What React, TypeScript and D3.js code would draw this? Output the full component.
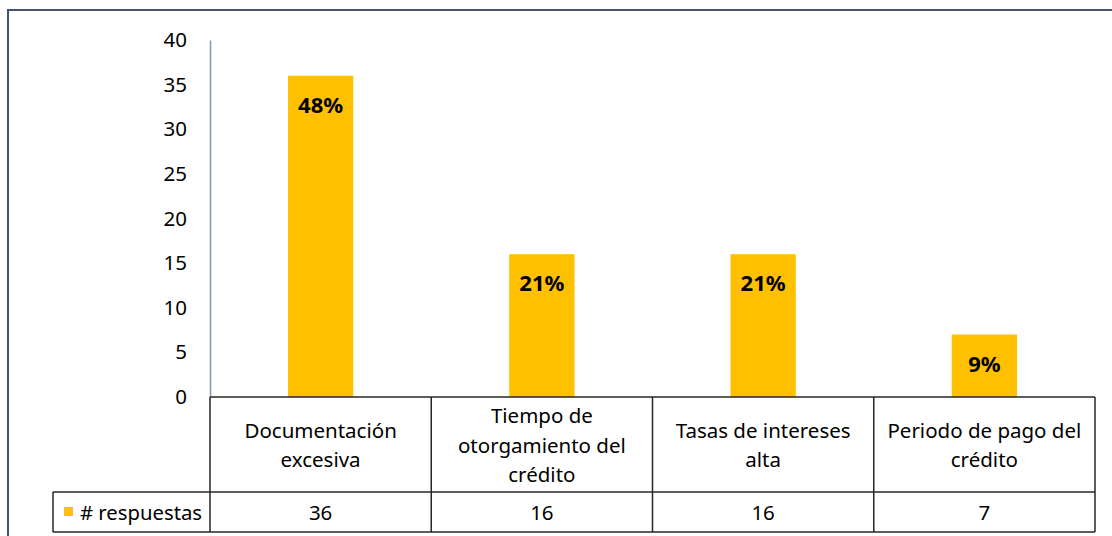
import React, { useEffect, useRef } from "react";
import * as d3 from "d3";

// categories as two/three-line cell labels
const categories = [
  "Documentación excesiva",
  "Tiempo de otorgamiento del crédito",
  "Tasas de intereses alta",
  "Periodo de pago del crédito",
];
const categoryLines = [
  ["Documentación", "excesiva"],
  ["Tiempo de", "otorgamiento del", "crédito"],
  ["Tasas de intereses", "alta"],
  ["Periodo de pago del", "crédito"],
];
const respuestas = [36, 16, 16, 7];
const percentLabels = ["48%", "21%", "21%", "9%"];
const seriesName = "# respuestas";
const yTicks = [0, 5, 10, 15, 20, 25, 30, 35, 40];

const W = 1112;
const H = 536;
const FONT = "'Noto Sans', sans-serif";

const App: React.FC = () => {
  const svgRef = useRef<SVGSVGElement>(null);

  useEffect(() => {
    if (!svgRef.current) return;
    const svg = d3.select(svgRef.current).html("");

    const margin = { left: 210, right: 1095, top: 40, plotBottom: 397, rowLine: 492, bottom: 532 };

    // outer chart border (extends past the window)
    svg
      .append("rect")
      .attr("x", 8)
      .attr("y", 10)
      .attr("width", 1200)
      .attr("height", 700)
      .attr("fill", "#fff")
      .attr("stroke", "#44546A")
      .attr("stroke-width", 2);

    const x = d3.scaleBand<string>().domain(categories).range([margin.left, margin.right]).padding(0);
    const y = d3.scaleLinear().domain([0, 40]).range([margin.plotBottom, margin.top]);

    // y axis
    const yAxis = svg
      .append("g")
      .attr("transform", `translate(${margin.left},0)`)
      .call(d3.axisLeft(y).tickValues(yTicks).tickSize(0).tickSizeOuter(0).tickPadding(23));
    yAxis.select(".domain").attr("stroke", "#8497B0").attr("stroke-width", 1.5);
    yAxis
      .selectAll("text")
      .attr("font-family", FONT)
      .attr("font-size", 20.5)
      .attr("fill", "#000");

    // bars
    const barW = x.bandwidth() * 0.295;
    svg
      .append("g")
      .selectAll("rect")
      .data(respuestas)
      .join("rect")
      .attr("x", (d, i) => (x(categories[i]) ?? 0) + x.bandwidth() / 2 - barW / 2)
      .attr("y", (d) => y(d))
      .attr("width", barW)
      .attr("height", (d) => y(0) - y(d))
      .attr("fill", "#FFC000");

    // percentage labels
    svg
      .append("g")
      .selectAll("text")
      .data(respuestas)
      .join("text")
      .attr("x", (d, i) => (x(categories[i]) ?? 0) + x.bandwidth() / 2)
      .attr("y", (d) => y(d) + 28)
      .attr("text-anchor", "middle")
      .attr("dominant-baseline", "central")
      .attr("font-family", FONT)
      .attr("font-weight", "bold")
      .attr("font-size", 22)
      .attr("fill", "#000")
      .text((d, i) => percentLabels[i]);

    // data table
    const table = svg.append("g").attr("fill", "none").attr("stroke", "#262626").attr("stroke-width", 1.5);
    table
      .append("line")
      .attr("x1", margin.left)
      .attr("x2", margin.right)
      .attr("y1", margin.plotBottom)
      .attr("y2", margin.plotBottom);
    table
      .append("line")
      .attr("x1", 53)
      .attr("x2", margin.right)
      .attr("y1", margin.rowLine)
      .attr("y2", margin.rowLine);
    table
      .append("line")
      .attr("x1", 53)
      .attr("x2", margin.right)
      .attr("y1", margin.bottom)
      .attr("y2", margin.bottom);
    table
      .append("line")
      .attr("x1", 53)
      .attr("x2", 53)
      .attr("y1", margin.rowLine)
      .attr("y2", margin.bottom);
    const bounds = [...categories.map((c) => x(c) ?? 0), margin.right];
    table
      .selectAll("line.v")
      .data(bounds)
      .join("line")
      .attr("class", "v")
      .attr("x1", (d) => d)
      .attr("x2", (d) => d)
      .attr("y1", margin.plotBottom)
      .attr("y2", margin.bottom);

    // category labels
    const lineH = 29.5;
    const cellMid = (margin.plotBottom + margin.rowLine) / 2;
    const cats = svg.append("g");
    categoryLines.forEach((lines, i) => {
      const cx = (x(categories[i]) ?? 0) + x.bandwidth() / 2;
      const t = cats
        .append("text")
        .attr("text-anchor", "middle")
        .attr("font-family", FONT)
        .attr("font-size", 20.5)
        .attr("fill", "#000");
      lines.forEach((ln, j) => {
        t.append("tspan")
          .attr("x", cx)
          .attr("y", cellMid + (j - (lines.length - 1) / 2) * lineH)
          .attr("dominant-baseline", "central")
          .text(ln);
      });
    });

    // value row
    const rowMid = (margin.rowLine + margin.bottom) / 2;
    svg
      .append("g")
      .selectAll("text")
      .data(respuestas)
      .join("text")
      .attr("x", (d, i) => (x(categories[i]) ?? 0) + x.bandwidth() / 2)
      .attr("y", rowMid)
      .attr("text-anchor", "middle")
      .attr("dominant-baseline", "central")
      .attr("font-family", FONT)
      .attr("font-size", 20.5)
      .attr("fill", "#000")
      .text((d) => d);

    // legend key
    svg
      .append("rect")
      .attr("x", 64)
      .attr("y", rowMid - 5)
      .attr("width", 9)
      .attr("height", 9)
      .attr("fill", "#FFC000");
    svg
      .append("text")
      .attr("x", 80)
      .attr("y", rowMid)
      .attr("dominant-baseline", "central")
      .attr("font-family", FONT)
      .attr("font-size", 20.3)
      .attr("fill", "#000")
      .text(seriesName);
  }, []);

  return (
    <div style={{ position: "absolute", left: 0, top: 0, width: W, height: H, overflow: "hidden", background: "#fff" }}>
      <svg ref={svgRef} width={W} height={H} style={{ display: "block" }} />
    </div>
  );
};

export default App;
